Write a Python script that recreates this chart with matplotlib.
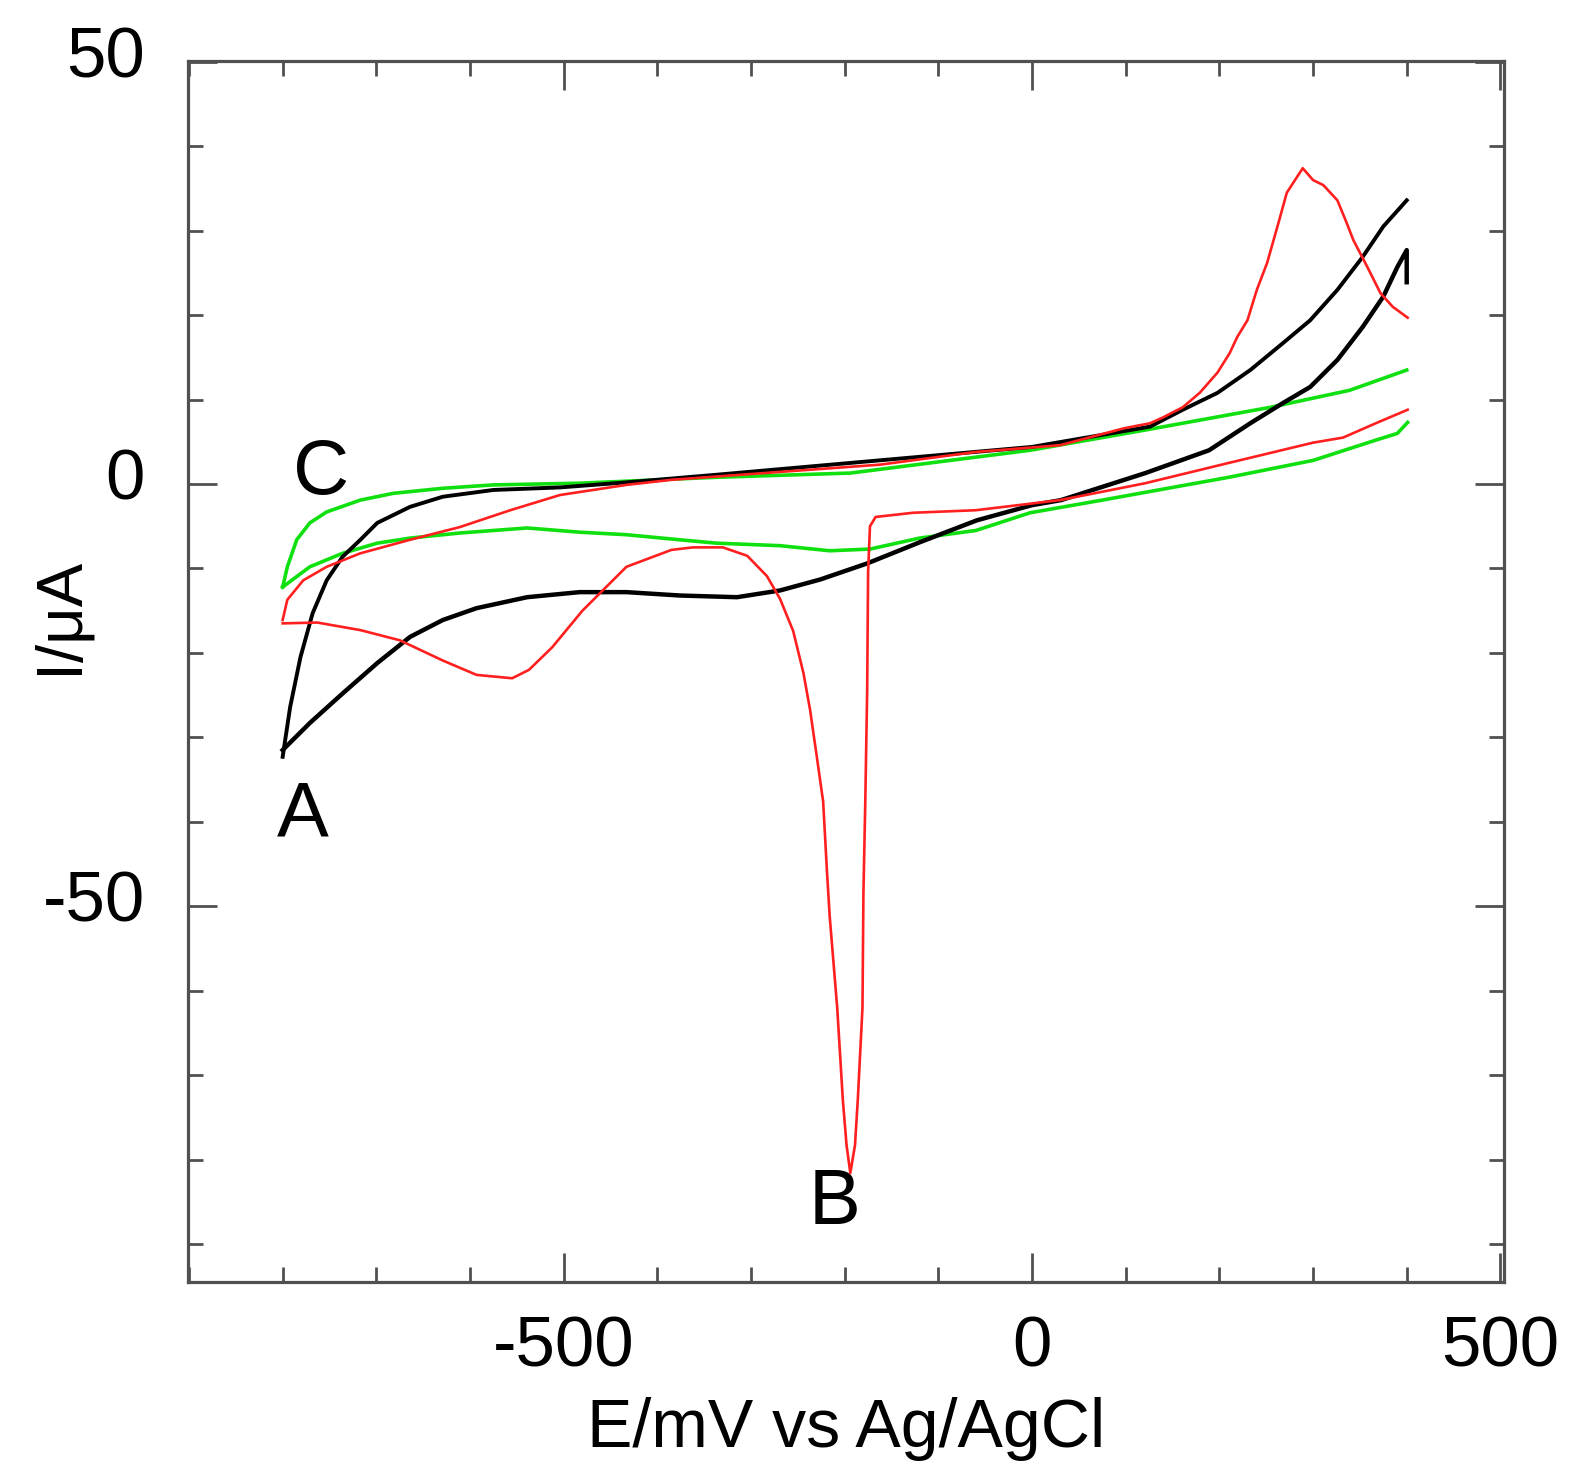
import numpy as np
import matplotlib
matplotlib.use("Agg")
import matplotlib.pyplot as plt
from matplotlib.ticker import MultipleLocator
from matplotlib.transforms import ScaledTranslation

plt.rcParams['font.family'] = ['Liberation Sans', 'DejaVu Sans']
plt.rcParams['axes.unicode_minus'] = False
plt.rcParams['lines.solid_joinstyle'] = 'round'

# ---- data (E in mV, I in uA) ----
# A: black, two branches
black_fwd_E = [-800, -792, -781, -768, -753, -736, -717, -699, -664, -629, -575, -504,
               -433, -337, -194, 0, 126, 161, 198, 233, 268, 297, 326, 353, 375, 400]
black_fwd_I = [-32.3, -26.4, -20.5, -15.3, -11.4, -8.6, -6.6, -4.6, -2.7, -1.5, -0.7, -0.4,
               0.2, 1.1, 2.5, 4.4, 6.8, 8.8, 10.8, 13.5, 16.7, 19.4, 23.0, 26.9, 30.5, 33.6]
black_rev_E = [-800, -771, -736, -699, -664, -629, -593, -539, -483, -433, -376, -315,
               -269, -226, -176, -120, -59, 0, 31, 121, 189, 233, 268, 297, 326, 353,
               375, 390, 400, 400]
black_rev_I = [-31.5, -28.3, -24.8, -21.2, -18.1, -16.1, -14.7, -13.4, -12.8, -12.8, -13.2, -13.4,
               -12.6, -11.3, -9.4, -6.9, -4.3, -2.5, -1.9, 1.3, 4.0, 7.2, 9.6, 11.5, 14.7, 18.6,
               22.2, 25.7, 27.7, 23.9]

# B: red
red_fwd_E = [-800, -795, -778, -753, -717, -664, -611, -557, -504, -433, -385, -162, -60,
             30, 98, 126, 140, 161, 179, 198, 211, 219, 230, 240, 251, 262, 272, 279,
             289, 300, 311, 326, 336, 343, 358, 372, 385, 401]
red_fwd_I = [-16.1, -13.7, -11.4, -9.8, -8.2, -6.6, -5.1, -3.1, -1.3, -0.1, 0.5, 2.3, 3.8,
             4.6, 6.6, 7.2, 7.9, 9.1, 10.8, 13.2, 15.5, 17.4, 19.4, 23.0, 26.2, 30.5, 34.5, 35.7,
             37.4, 36.0, 35.4, 33.6, 30.9, 28.9, 25.7, 22.6, 21.0, 19.7]
red_rev_E = [401, 367, 332, 300, 210, 121, 30, -60, -127, -167, -173, -175, -176, -178,
             -180, -181, -186, -189, -194, -198, -202, -205, -208, -212, -216, -219, -223,
             -230, -237, -244, -255, -269, -283, -304, -330, -362, -385, -433, -480, -512,
             -537, -555, -593, -629, -675, -717, -763, -800]
red_rev_I = [8.8, 7.2, 5.5, 4.9, 2.5, 0.1, -1.9, -3.1, -3.4, -3.9, -5.0, -10.4, -24.5, -37.6,
             -48.5, -62.0, -72.9, -78.3, -81.6, -78.3, -72.9, -67.4, -62.0, -56.6, -51.2, -45.7, -37.6,
             -32.1, -26.7, -22.4, -17.4, -13.6, -10.9, -8.5, -7.5, -7.5, -7.8, -9.8, -15.0, -19.3,
             -22.0, -23.0, -22.6, -20.9, -18.5, -17.3, -16.4, -16.5]

# C: green
green_fwd_E = [-800, -795, -785, -771, -753, -717, -682, -629, -575, -483, -337, -194,
               -2, 121, 255, 339, 400]
green_fwd_I = [-12.2, -9.8, -6.6, -4.6, -3.3, -1.9, -1.1, -0.5, -0.1, 0.1, 0.8, 1.3,
               4.0, 6.4, 9.1, 11.1, 13.5]
green_rev_E = [-800, -771, -736, -699, -664, -611, -539, -483, -433, -376, -337, -269,
               -216, -173, -120, -60, -2, 75, 210, 300, 367, 390, 401]
green_rev_I = [-12.2, -9.8, -8.2, -7.0, -6.4, -5.8, -5.2, -5.7, -6.0, -6.6, -7.0, -7.3,
               -7.9, -7.7, -6.4, -5.5, -3.4, -1.9, 0.8, 2.8, 5.2, 6.0, 7.3]

curve_labels = ["A", "B", "C"]
label_E = [-778, -211, -759]
label_I = [-39.3, -85.2, 1.3]

# ---- figure ----
fig = plt.figure(figsize=(15.75, 14.84), dpi=100)
ax = fig.add_axes([0.1194, 0.1361, 0.8356, 0.8228])

red = '#ff1f1f'
green = '#10e010'
ax.plot(black_fwd_E, black_fwd_I, color='black', lw=2.8, zorder=3)
ax.plot(black_rev_E, black_rev_I, color='black', lw=3.2, zorder=3)
ax.plot(green_fwd_E, green_fwd_I, color=green, lw=2.6, zorder=2)
ax.plot(green_rev_E, green_rev_I, color=green, lw=2.6, zorder=2)
ax.plot(red_fwd_E, red_fwd_I, color=red, lw=1.9, zorder=4)
ax.plot(red_rev_E, red_rev_I, color=red, lw=1.9, zorder=4)

for lab, e, i in zip(curve_labels, label_E, label_I):
    ax.text(e, i, lab, fontsize=56, ha='center', va='center', color='black')

ax.set_xlim(-901, 504)
ax.set_ylim(-94.5, 50.1)

ax.xaxis.set_major_locator(MultipleLocator(500))
ax.xaxis.set_minor_locator(MultipleLocator(100))
ax.yaxis.set_major_locator(MultipleLocator(50))
ax.yaxis.set_minor_locator(MultipleLocator(10))

spine_col = '#505050'
for s in ax.spines.values():
    s.set_color(spine_col)
    s.set_linewidth(2.3)

ax.tick_params(which='both', direction='in', top=True, right=True,
               color=spine_col, width=2.0, labelsize=51)
ax.tick_params(which='major', length=21)
ax.tick_params(which='minor', length=11)
ax.tick_params(axis='x', which='major', pad=24)
ax.tick_params(axis='y', which='major', pad=31)

# y tick labels sit a little above their ticks in the reference
shift = ScaledTranslation(0, 0.10, fig.dpi_scale_trans)
for lbl in ax.yaxis.get_majorticklabels():
    lbl.set_transform(lbl.get_transform() + shift)

ax.set_xlabel("E/mV vs Ag/AgCl", fontsize=49)
ax.xaxis.set_label_coords(0.5, -0.094)
ax.set_ylabel("I/\u03bcA", fontsize=47, va='center')
ax.yaxis.set_label_coords(-0.098, 0.546)

fig.savefig("out.png", dpi=100)
